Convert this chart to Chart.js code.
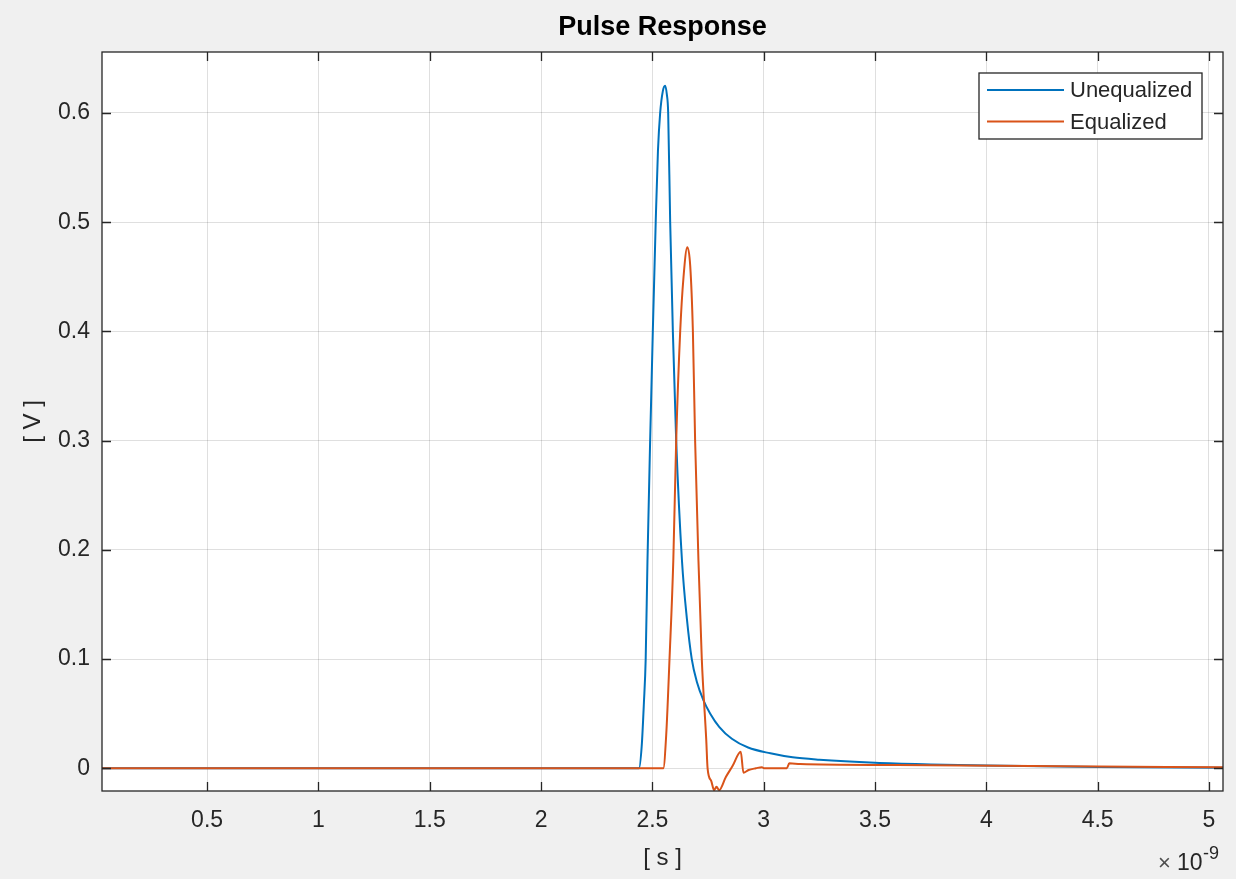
<!DOCTYPE html>
<html>
<head>
<meta charset="utf-8">
<script src="https://cdn.jsdelivr.net/npm/chart.js@4.4.1/dist/chart.umd.min.js"></script>
<style>
  html, body { margin: 0; padding: 0; background: #f0f0f0; }
  #chart { display: block; }
</style>
</head>
<body>
<canvas id="chart" width="1236" height="879"></canvas>
<script>
// x values in units of 1e-9 s (shown with the ×10^-9 multiplier)
const xTicks = [0.5, 1, 1.5, 2, 2.5, 3, 3.5, 4, 4.5, 5];
const yTicks = [0, 0.1, 0.2, 0.3, 0.4, 0.5, 0.6];

// Unequalized pulse
const unEqTime = [0.028, 2.44, 2.452, 2.462, 2.47, 2.478, 2.49, 2.502, 2.515, 2.525, 2.535, 2.547, 2.557, 2.565, 2.571, 2.58, 2.592, 2.607, 2.633, 2.655, 2.677, 2.70, 2.729, 2.76, 2.80, 2.857, 2.93, 3.03, 3.13, 3.25, 3.5, 3.75, 4.0, 4.5, 5.063];
const unEqVolt = [0, 0, 0.02, 0.06, 0.10, 0.19, 0.30, 0.40, 0.50, 0.565, 0.60, 0.62, 0.625, 0.617, 0.60, 0.50, 0.40, 0.30, 0.19, 0.137, 0.10, 0.079, 0.0625, 0.05, 0.038, 0.027, 0.019, 0.0137, 0.010, 0.0078, 0.005, 0.0035, 0.0025, 0.0012, 0.0005];

// Equalized pulse
const eqTime = [0.028, 2.549, 2.562, 2.577, 2.594, 2.607, 2.625, 2.64, 2.657, 2.67, 2.682, 2.692, 2.707, 2.722, 2.742, 2.748, 2.765, 2.777, 2.788, 2.80, 2.83, 2.86, 2.897, 2.909, 2.932, 2.965, 2.992, 3.002, 3.104, 3.115, 3.164, 3.6, 4.2, 5.063];
const eqVolt = [0, 0, 0.03, 0.10, 0.19, 0.30, 0.40, 0.45, 0.477, 0.46, 0.40, 0.30, 0.19, 0.10, 0.026, 0, -0.012, -0.02, -0.017, -0.02, -0.008, 0.002, 0.0152, -0.004, -0.0016, 0, 0.001, 0, 0, 0.0046, 0.0039, 0.003, 0.002, 0.001];

const FONT = "'Liberation Sans', Arial, sans-serif";
const AXIS = "#262626";
const GRID = "rgba(38,38,38,0.15)";

function toPoints(xs, ys) {
  return xs.map((x, i) => ({ x: x, y: ys[i] }));
}

// Рамка, засечки внутрь, заголовок, подписи осей и легенда в стиле MATLAB
const matlabLook = {
  id: "matlabLook",
  beforeDraw(chart) {
    const { ctx, chartArea: a } = chart;
    ctx.save();
    ctx.fillStyle = "#ffffff";
    ctx.fillRect(a.left, a.top, a.right - a.left, a.bottom - a.top);
    ctx.restore();
  },
  afterDraw(chart) {
    const { ctx, chartArea: a, scales } = chart;
    const tick = 9;
    ctx.save();

    // засечки
    ctx.strokeStyle = AXIS;
    ctx.lineWidth = 1.3;
    ctx.beginPath();
    xTicks.forEach((v) => {
      const px = Math.round(scales.x.getPixelForValue(v)) + 0.5;
      ctx.moveTo(px, a.bottom); ctx.lineTo(px, a.bottom - tick);
      ctx.moveTo(px, a.top); ctx.lineTo(px, a.top + tick);
    });
    yTicks.forEach((v) => {
      const py = Math.round(scales.y.getPixelForValue(v)) + 0.5;
      ctx.moveTo(a.left, py); ctx.lineTo(a.left + tick, py);
      ctx.moveTo(a.right, py); ctx.lineTo(a.right - tick, py);
    });
    ctx.stroke();
    ctx.strokeRect(a.left, a.top, a.right - a.left, a.bottom - a.top);

    // заголовок
    const cx = (a.left + a.right) / 2;
    ctx.fillStyle = "#000000";
    ctx.textAlign = "center";
    ctx.textBaseline = "middle";
    ctx.font = "bold 27px " + FONT;
    ctx.fillText("Pulse Response", cx, 28);

    // подписи осей
    ctx.fillStyle = AXIS;
    ctx.font = "24px " + FONT;
    ctx.fillText("[ s ]", cx, 858);
    ctx.save();
    ctx.translate(33, (a.top + a.bottom) / 2);
    ctx.rotate(-Math.PI / 2);
    ctx.fillText("[ V ]", 0, 0);
    ctx.restore();

    // множитель ×10^-9
    ctx.textAlign = "left";
    ctx.textBaseline = "alphabetic";
    ctx.fillStyle = "#4d4d4d";
    ctx.font = "22px " + FONT;
    ctx.fillText("\u00d7", 1158, 870);
    ctx.fillStyle = AXIS;
    ctx.font = "23px " + FONT;
    ctx.fillText("10", 1177, 870);
    ctx.font = "18px " + FONT;
    ctx.fillText("-9", 1203, 859);

    // легенда
    const box = { x: 979, y: 73, w: 223, h: 66 };
    ctx.fillStyle = "#ffffff";
    ctx.fillRect(box.x, box.y, box.w, box.h);
    ctx.strokeStyle = AXIS;
    ctx.lineWidth = 1.3;
    ctx.strokeRect(box.x, box.y, box.w, box.h);
    ctx.font = "22px " + FONT;
    ctx.textBaseline = "middle";
    const rows = [90, 121.5];
    chart.data.datasets.forEach((ds, i) => {
      ctx.strokeStyle = ds.borderColor;
      ctx.lineWidth = 2;
      ctx.beginPath();
      ctx.moveTo(987, rows[i]);
      ctx.lineTo(1064, rows[i]);
      ctx.stroke();
      ctx.fillStyle = AXIS;
      ctx.fillText(ds.label, 1070, rows[i] + 1);
    });
    ctx.restore();
  },
};

new Chart(document.getElementById("chart"), {
  type: "line",
  data: {
    datasets: [
      {
        label: "Unequalized",
        data: toPoints(unEqTime, unEqVolt),
        borderColor: "#0072BD",
        borderWidth: 2,
        pointRadius: 0,
        cubicInterpolationMode: "monotone",
        order: 1,
      },
      {
        label: "Equalized",
        data: toPoints(eqTime, eqVolt),
        borderColor: "#D95319",
        borderWidth: 2,
        pointRadius: 0,
        cubicInterpolationMode: "monotone",
        order: 0,
      },
    ],
  },
  options: {
    responsive: false,
    animation: false,
    layout: { padding: { top: 52, right: 13, left: 0, bottom: 0 } },
    plugins: {
      legend: { display: false },
      title: { display: false },
      tooltip: { enabled: false },
    },
    scales: {
      x: {
        type: "linear",
        min: 0.028,
        max: 5.063,
        afterBuildTicks: (s) => { s.ticks = xTicks.map((v) => ({ value: v })); },
        afterFit: (s) => { s.height = 88; },
        border: { display: false },
        grid: { color: GRID, lineWidth: 1, drawTicks: false },
        ticks: {
          color: AXIS,
          font: { family: FONT, size: 23 },
          padding: 16,
          maxRotation: 0,
          autoSkip: false,
          callback: (v) => String(v),
        },
      },
      y: {
        type: "linear",
        min: -0.0208,
        max: 0.6558,
        afterBuildTicks: (s) => { s.ticks = yTicks.map((v) => ({ value: v })); },
        afterFit: (s) => { s.width = 102; },
        border: { display: false },
        grid: { color: GRID, lineWidth: 1, drawTicks: false },
        ticks: {
          color: AXIS,
          font: { family: FONT, size: 23 },
          padding: 12,
          autoSkip: false,
          callback: (v) => String(v),
        },
      },
    },
  },
  plugins: [matlabLook],
});
</script>
</body>
</html>
